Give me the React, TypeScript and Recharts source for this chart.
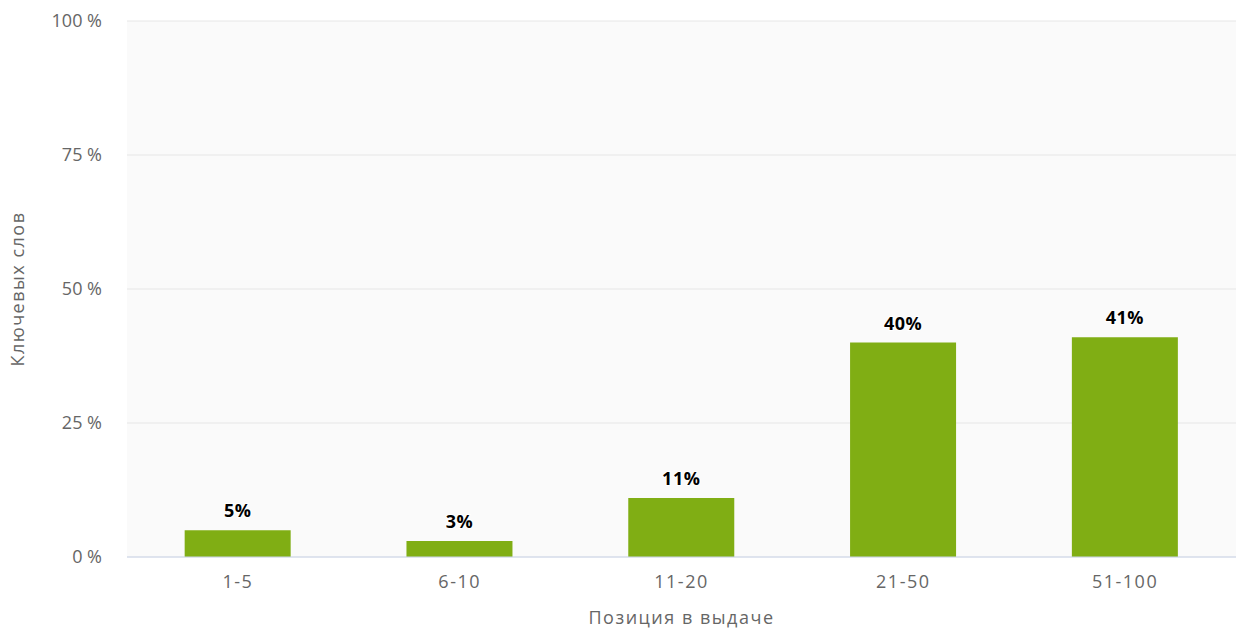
import { Bar, BarChart, CartesianGrid, Label, LabelList, XAxis, YAxis } from 'recharts';

const positions = ['1-5', '6-10', '11-20', '21-50', '51-100'];
const keywordShare = [5, 3, 11, 40, 41];
const yTicks = [0, 25, 50, 75, 100];

const data = positions.map((p, i) => ({ pos: p, share: keywordShare[i] }));

const FONT = '"Open Sans", "DejaVu Sans", sans-serif';

export default function App() {
  return (
    <div style={{ position: 'absolute', left: 0, top: 0, background: '#fff' }}>
      <BarChart
        width={1238}
        height={628}
        data={data}
        margin={{ top: 21, right: 2, left: 0, bottom: 0 }}
        barCategoryGap="26%"
      >
        <CartesianGrid vertical={false} stroke="#e6e6e6" fill="#fafafa" />
        <XAxis
          dataKey="pos"
          height={71}
          tickLine={false}
          axisLine={{ stroke: '#ccd6eb' }}
          tickMargin={12}
          tick={{ fill: '#666', fontSize: 18, fontFamily: FONT, letterSpacing: 1.5 }}
        >
          <Label
            value="Позиция в выдаче"
            position="insideBottom"
            offset={4}
            fill="#666"
            fontSize={18}
            letterSpacing={1.5}
            fontFamily={FONT}
          />
        </XAxis>
        <YAxis
          width={127}
          domain={[0, 100]}
          ticks={yTicks}
          axisLine={false}
          tickLine={false}
          tickMargin={19}
          tickFormatter={(v: number) => `${v} %`}
          tick={{ fill: '#666', fontSize: 18, fontFamily: FONT }}
        >
          <Label
            value="Ключевых слов"
            angle={-90}
            position="insideLeft"
            offset={18}
            style={{ textAnchor: 'middle' }}
            fill="#666"
            fontSize={18}
            letterSpacing={1.5}
            fontFamily={FONT}
          />
        </YAxis>
        <Bar dataKey="share" fill="#80ae14" isAnimationActive={false}>
          <LabelList
            dataKey="share"
            position="top"
            offset={13}
            formatter={(v: number) => `${v}%`}
            fill="#000"
            fontSize={18}
            fontWeight="bold"
            letterSpacing={0.5}
            fontFamily={FONT}
            stroke="#fff"
            strokeWidth={2}
            paintOrder="stroke"
          />
        </Bar>
      </BarChart>
    </div>
  );
}
